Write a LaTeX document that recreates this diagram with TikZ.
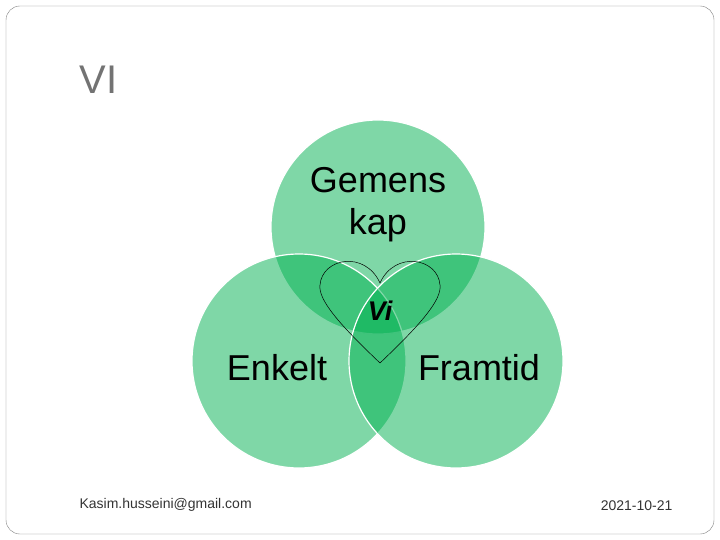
\documentclass[tikz,border=0pt]{standalone}
\usepackage{fontspec}
\setmainfont{Liberation Sans}
\begin{document}
\begin{tikzpicture}[x=1pt,y=-1pt,
  venn/.style={fill={rgb,255:red,0;green,176;blue,80},fill opacity=0.5,draw=white,line width=1.2pt},
  big/.style={font=\fontsize{36}{42}\selectfont,align=center}]
\useasboundingbox (0,0) rectangle (720,540);
\draw[gray,rounded corners=14pt] (6,6) rectangle (714,534);
\node[anchor=west,text=gray!90!black,font=\fontsize{40}{42}\selectfont] (title) at (76,80) {VI};
\path[venn] (378,227) circle (107);
\path[venn] (299,361) circle (107);
\path[venn] (456,361) circle (107);
\draw[black,line width=0.5pt] (380,363) .. controls (340,325) and (318,300) .. (320,285) .. controls (322,258) and (365,250) .. (380,283) .. controls (395,250) and (438,258) .. (440,285) .. controls (442,300) and (420,325) .. (380,363);
\node[big] (g) at (378,205) {Gemens\\kap};
\node[big] (e) at (277,368) {Enkelt};
\node[big] (f) at (479,368) {Framtid};
\node[font=\fontsize{27}{28}\selectfont\itshape\bfseries] (vi) at (380,311) {Vi};
\node[anchor=west,font=\fontsize{14}{16}\selectfont,text=black!80] (mail) at (76,505) {Kasim.husseini@gmail.com};
\node[anchor=east,font=\fontsize{14}{16}\selectfont,text=black!80] (date) at (676,506) {2021-10-21};
\end{tikzpicture}
\end{document}
